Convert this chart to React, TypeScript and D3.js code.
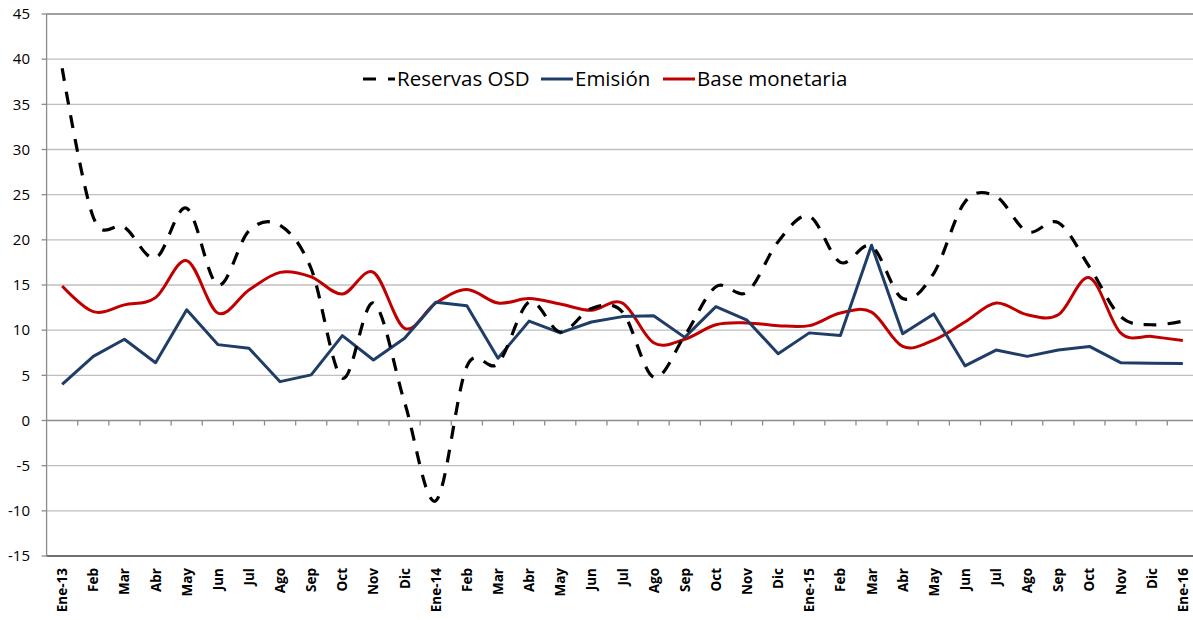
import React from "react";
import * as d3 from "d3";

const labels = ["Ene-13","Feb","Mar","Abr","May","Jun","Jul","Ago","Sep","Oct","Nov","Dic",
  "Ene-14","Feb","Mar","Abr","May","Jun","Jul","Ago","Sep","Oct","Nov","Dic",
  "Ene-15","Feb","Mar","Abr","May","Jun","Jul","Ago","Sep","Oct","Nov","Dic","Ene-16"];

const reservas = [39.0, 22.5, 21.4, 18.0, 23.5, 15.0, 21.0, 21.6, 16.8, 4.7, 13.0, 2.0,
  -8.9, 6.0, 6.3, 13.1, 9.8, 12.4, 12.0, 4.8, 9.4, 14.8, 14.2, 19.8,
  22.6, 17.5, 19.3, 13.5, 16.3, 24.2, 24.8, 20.9, 21.9, 17.0, 11.5, 10.6, 11.0];

const emision = [4.0, 7.1, 9.0, 6.4, 12.25, 8.4, 8.0, 4.3, 5.05, 9.4, 6.7, 9.1,
  13.1, 12.7, 6.9, 11.0, 9.7, 10.9, 11.5, 11.6, 9.2, 12.6, 11.1, 7.4,
  9.7, 9.4, 19.4, 9.6, 11.8, 6.05, 7.8, 7.1, 7.8, 8.2, 6.4, 6.35, 6.3];

const baseMonetaria = [14.9, 12.05, 12.8, 13.6, 17.7, 11.9, 14.45, 16.4, 15.9, 14.0, 16.4, 10.2,
  13.0, 14.5, 13.0, 13.5, 12.9, 12.2, 13.0, 8.6, 9.0, 10.6, 10.8, 10.5,
  10.5, 11.9, 12.0, 8.2, 8.9, 10.9, 13.0, 11.7, 11.7, 15.8, 9.7, 9.3, 8.85];

const yTicks = [-15, -10, -5, 0, 5, 10, 15, 20, 25, 30, 35, 40, 45];

const seriesNames = ["Reservas OSD", "Emisión", "Base monetaria"];

const W = 1193, H = 620;
const left = 46.6, step = 31.13;
const top = 14, bottom = 556;

export default function App() {
  const idx = d3.range(labels.length);
  const x = d3.scaleBand<number>().domain(idx).range([left, left + step * labels.length]).paddingInner(0).paddingOuter(0);
  const cx = (i: number) => (x(i) as number) + x.bandwidth() / 2;
  const y = d3.scaleLinear().domain([-15, 45]).range([bottom, top]);

  const smooth = d3.line<number>().x((_, i) => cx(i)).y((d) => y(d)).curve(d3.curveCardinal.tension(0));
  const straight = d3.line<number>().x((_, i) => cx(i)).y((d) => y(d));

  const font = "'Open Sans', 'Noto Sans', sans-serif";
  const blue = "#1F3D66";
  const red = "#C00000";

  return (
    <svg width={W} height={H} style={{ position: "absolute", left: 0, top: 0, background: "#fff" }}>
      {yTicks.map((t) => (
        <line key={"g" + t} x1={left} x2={W} y1={y(t)} y2={y(t)}
          stroke={t === -15 ? "#404040" : t === 45 ? "#7f7f7f" : t === 0 ? "#8c8c8c" : "#bfbfbf"}
          strokeWidth={t === -15 ? 1.5 : 1.3} />
      ))}
      <line x1={left} x2={left} y1={top} y2={bottom} stroke="#8c8c8c" strokeWidth={1.3} />
      {yTicks.map((t) => (
        <g key={"yt" + t}>
          <line x1={left - 5} x2={left} y1={y(t)} y2={y(t)} stroke="#8c8c8c" strokeWidth={1.3} />
          <text x={30} y={y(t)} dy="0.35em" textAnchor="end" fontFamily={font} fontSize={15} fill="#000">{t}</text>
        </g>
      ))}
      {idx.slice(1).map((i) => (
        <line key={"xt" + i} x1={x(i) as number} x2={x(i) as number} y1={y(0)} y2={y(0) + 5} stroke="#8c8c8c" strokeWidth={1.3} />
      ))}
      {labels.map((l, i) => (
        <text key={"xl" + i} transform={`translate(${cx(i) + 5},${568}) rotate(-90)`} textAnchor="end"
          fontFamily={font} fontWeight="bold" fontSize={13.5} fill="#000">{l}</text>
      ))}
      <path d={smooth(baseMonetaria) || ""} fill="none" stroke={red} strokeWidth={3} strokeLinejoin="round" />
      <path d={straight(emision) || ""} fill="none" stroke={blue} strokeWidth={3} strokeLinejoin="round" />
      <path d={smooth(reservas) || ""} fill="none" stroke="#000" strokeWidth={3.2} strokeDasharray="13,11" />
      <g fontFamily={font} fontSize={20.5} fill="#000">
        <line x1={363} x2={395} y1={79} y2={79} stroke="#000" strokeWidth={3.2} strokeDasharray="13,12" />
        <text x={397} y={79} dy="0.35em">{seriesNames[0]}</text>
        <line x1={541} x2={573} y1={79} y2={79} stroke={blue} strokeWidth={3} />
        <text x={575} y={79} dy="0.35em">{seriesNames[1]}</text>
        <line x1={663} x2={695} y1={79} y2={79} stroke={red} strokeWidth={3} />
        <text x={697} y={79} dy="0.35em">{seriesNames[2]}</text>
      </g>
    </svg>
  );
}
